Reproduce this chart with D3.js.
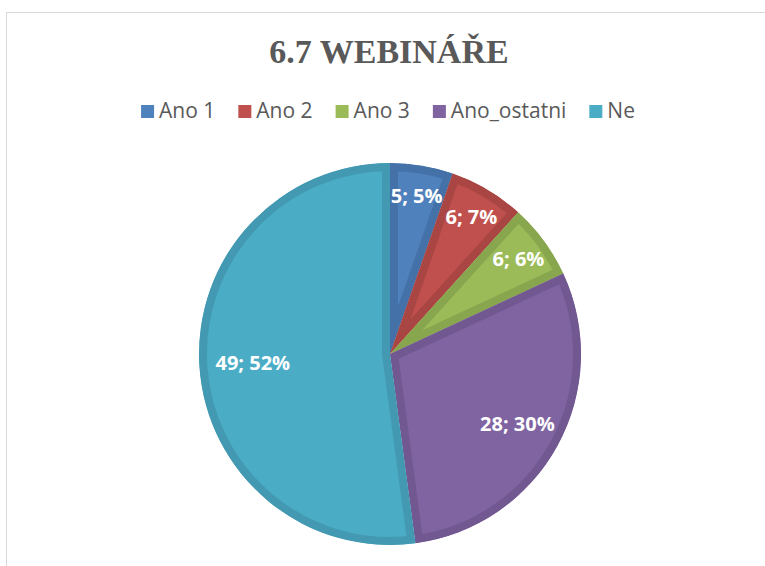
<!DOCTYPE html>
<html>
<head>
  <meta charset="utf-8">
<script src="https://cdnjs.cloudflare.com/ajax/libs/d3/7.8.5/d3.min.js"></script>
<style>
  body { margin: 0; background: #fff; }
</style>
</head>
<body>
<svg width="765" height="566"></svg>
<script>
var categories = ["Ano 1", "Ano 2", "Ano 3", "Ano_ostatni", "Ne"];
var counts     = [5, 6, 6, 28, 49];
var percents   = ["5%", "7%", "6%", "30%", "52%"];
var fills      = ["#4f81bd", "#c0504d", "#9bbb59", "#8064a2", "#4bacc6"];
var edges      = ["#4471a8", "#a94643", "#88a64e", "#715891", "#4299b1"];

var svg = d3.select("svg");

// chart frame (only top and left edges show)
svg.append("rect")
  .attr("x", 6.5).attr("y", 12.5)
  .attr("width", 800).attr("height", 600)
  .attr("fill", "none")
  .attr("stroke", "#d9d9d9");

// title
svg.append("text")
  .attr("x", 389).attr("y", 63)
  .attr("text-anchor", "middle")
  .style("font-family", "'Liberation Serif', 'Times New Roman', serif")
  .style("font-weight", "bold")
  .style("font-size", "34px")
  .attr("fill", "#595959")
  .text("6.7 WEBINÁŘE");

// legend
var legend = svg.append("g");
var lx = 0;
categories.forEach(function(c, i) {
  var item = legend.append("g").attr("transform", "translate(" + lx + ",0)");
  item.append("rect")
    .attr("x", 0).attr("y", -13)
    .attr("width", 13).attr("height", 13)
    .attr("fill", fills[i]);
  var t = item.append("text")
    .attr("x", 18).attr("y", 0)
    .style("font-family", "'Open Sans', sans-serif")
    .style("font-size", "21px")
    .attr("fill", "#595959")
    .text(c);
  lx += 18 + t.node().getComputedTextLength() + 23;
});
lx -= 23;
legend.attr("transform", "translate(" + (388 - lx / 2) + ",118)");

// pie
var cx = 390, cy = 354, r = 191;
var pie = d3.pie().sort(null).value(function(d) { return d; });
var arcs = pie(counts);
var arc = d3.arc().innerRadius(0).outerRadius(r);

var g = svg.append("g").attr("transform", "translate(" + cx + "," + cy + ")");
var defs = svg.append("defs");

arcs.forEach(function(a, i) {
  defs.append("clipPath").attr("id", "clip" + i)
    .append("path").attr("d", arc(a));
  g.append("path")
    .attr("d", arc(a))
    .attr("fill", fills[i])
    .attr("stroke", edges[i])
    .attr("stroke-width", 16)
    .attr("stroke-linejoin", "miter")
    .attr("clip-path", "url(#clip" + i + ")");
});

var labelPos = d3.scaleLinear().domain([0.05, 0.3, 0.52]).range([0.84, 0.76, 0.72]).clamp(true);
var total = d3.sum(counts);

g.selectAll(".lbl")
  .data(arcs)
  .enter().append("text")
    .attr("class", "lbl")
    .attr("transform", function(d) {
      var a = (d.startAngle + d.endAngle) / 2;
      var lr = r * labelPos(d.value / total);
      return "translate(" + (Math.sin(a) * lr) + "," + (-Math.cos(a) * lr) + ")";
    })
    .attr("text-anchor", "middle")
    .attr("dy", "0.35em")
    .style("font-family", "'Open Sans', 'Noto Sans', sans-serif")
    .style("font-weight", "bold")
    .style("font-size", "20px")
    .attr("fill", "#fff")
    .text(function(d, i) { return counts[i] + "; " + percents[i]; });
</script>
</body>
</html>
